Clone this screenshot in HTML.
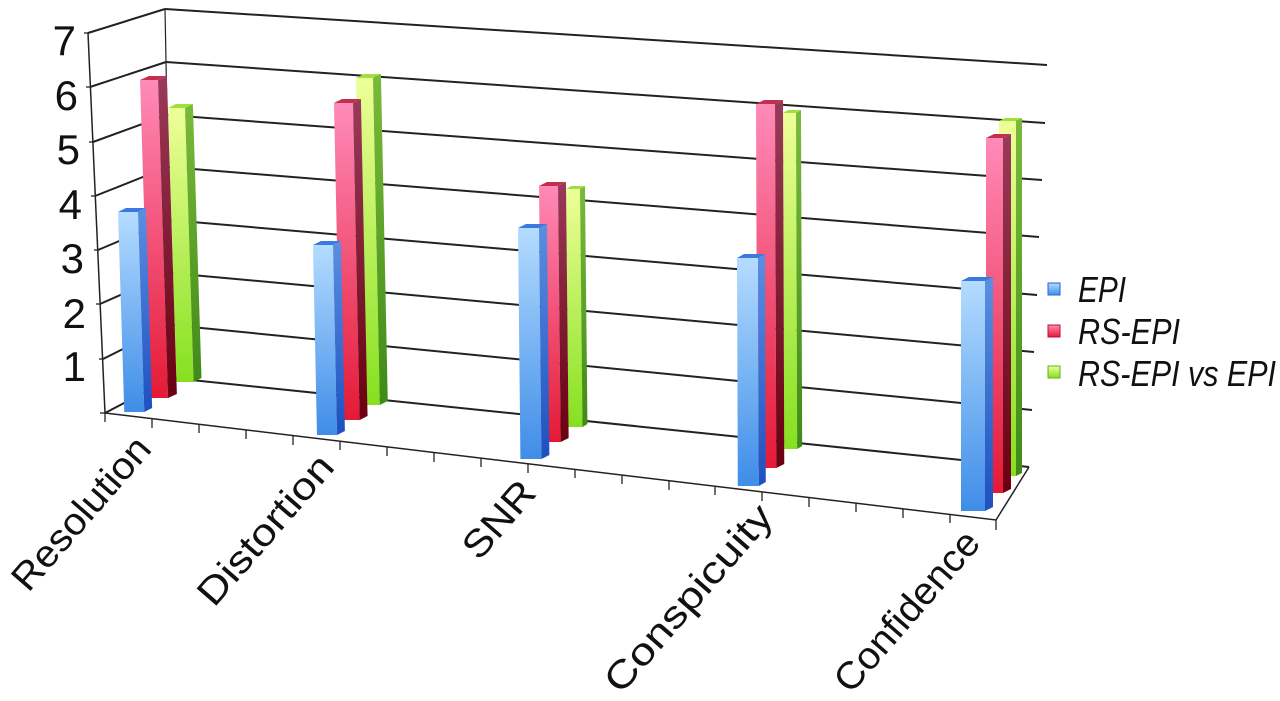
<!DOCTYPE html>
<html><head><meta charset="utf-8"><style>
html,body{margin:0;padding:0;background:#fff;}
svg{display:block;font-family:"Liberation Sans",sans-serif;}
</style></head><body>
<svg width="1280" height="701" viewBox="0 0 1280 701" xmlns="http://www.w3.org/2000/svg">
<defs>
<linearGradient id="bf" x1="0" y1="0" x2="0" y2="1"><stop offset="0" stop-color="#b4dcff"/><stop offset="1" stop-color="#3f8de8"/></linearGradient>
<linearGradient id="bs" x1="0" y1="0" x2="0" y2="1"><stop offset="0" stop-color="#5a8fe0"/><stop offset="1" stop-color="#1e50c0"/></linearGradient>
<linearGradient id="rf" x1="0" y1="0" x2="0" y2="1"><stop offset="0" stop-color="#ff8ab8"/><stop offset="1" stop-color="#e41a36"/></linearGradient>
<linearGradient id="rs" x1="0" y1="0" x2="0" y2="1"><stop offset="0" stop-color="#9a3a5a"/><stop offset="1" stop-color="#6a0010"/></linearGradient>
<linearGradient id="gf" x1="0" y1="0" x2="0" y2="1"><stop offset="0" stop-color="#eeff98"/><stop offset="1" stop-color="#86e020"/></linearGradient>
<linearGradient id="gs" x1="0" y1="0" x2="0" y2="1"><stop offset="0" stop-color="#7aba3a"/><stop offset="1" stop-color="#3f8a18"/></linearGradient>
</defs>
<g stroke="#222" stroke-width="2" fill="none">
<line x1="172" y1="378" x2="1029" y2="467"/><line x1="105" y1="413" x2="172" y2="378"/>
<line x1="171" y1="325" x2="1032" y2="410"/><line x1="103" y1="359" x2="171" y2="325"/>
<line x1="170" y1="273" x2="1034" y2="352"/><line x1="100" y1="304" x2="170" y2="273"/>
<line x1="169" y1="220" x2="1037" y2="295"/><line x1="98" y1="250" x2="169" y2="220"/>
<line x1="168" y1="167" x2="1039" y2="237"/><line x1="95" y1="196" x2="168" y2="167"/>
<line x1="167" y1="115" x2="1042" y2="180"/><line x1="93" y1="142" x2="167" y2="115"/>
<line x1="166" y1="62" x2="1045" y2="123"/><line x1="90" y1="87" x2="166" y2="62"/>
<line x1="165" y1="9" x2="1047" y2="65"/><line x1="88" y1="33" x2="165" y2="9"/>
<line x1="165" y1="9" x2="172" y2="378" stroke-width="1.2"/>
<line x1="88" y1="33" x2="105" y2="413" stroke-width="1.5"/>
<polyline points="105,413 996,520 1029,467" stroke-width="1.5"/>
<g stroke-width="1.3">
<line x1="84" y1="33" x2="88" y2="33"/><line x1="86" y1="87" x2="90" y2="87"/><line x1="89" y1="142" x2="93" y2="142"/><line x1="91" y1="196" x2="95" y2="196"/><line x1="94" y1="250" x2="98" y2="250"/><line x1="96" y1="304" x2="100" y2="304"/><line x1="99" y1="359" x2="103" y2="359"/><line x1="100" y1="413" x2="105" y2="413"/>
<line x1="105" y1="413" x2="105" y2="422"/><line x1="152" y1="419" x2="152" y2="428"/><line x1="199" y1="424" x2="199" y2="433"/><line x1="246" y1="430" x2="246" y2="439"/><line x1="293" y1="436" x2="293" y2="445"/><line x1="340" y1="441" x2="340" y2="450"/><line x1="387" y1="447" x2="387" y2="456"/><line x1="434" y1="453" x2="434" y2="462"/><line x1="481" y1="458" x2="481" y2="467"/><line x1="528" y1="464" x2="528" y2="473"/><line x1="575" y1="469" x2="575" y2="478"/><line x1="622" y1="475" x2="622" y2="484"/><line x1="669" y1="481" x2="669" y2="490"/><line x1="715" y1="486" x2="715" y2="495"/><line x1="762" y1="492" x2="762" y2="501"/><line x1="809" y1="498" x2="809" y2="507"/><line x1="856" y1="503" x2="856" y2="512"/><line x1="903" y1="509" x2="903" y2="518"/><line x1="950" y1="514" x2="950" y2="523"/><line x1="996" y1="520" x2="996" y2="530"/>
</g>
</g>

<g transform="translate(168,108) skewX(1.8)"><rect width="17" height="274" fill="url(#gf)"/><polygon points="17,0 25,-4 25,270 17,274" fill="url(#gs)"/><polygon points="0,0 8,-4 25,-4 17,0" fill="#9fe040"/></g>
<g transform="translate(140,80) skewX(1.8)"><rect width="18" height="318" fill="url(#rf)"/><polygon points="18,0 27,-4 27,314 18,318" fill="url(#rs)"/><polygon points="0,0 9,-4 27,-4 18,0" fill="#c23050"/></g>
<g transform="translate(118,212) skewX(1.8)"><rect width="20" height="200" fill="url(#bf)"/><polygon points="20,0 28,-4 28,196 20,200" fill="url(#bs)"/><polygon points="0,0 8,-4 28,-4 20,0" fill="#3a7ae0"/></g>

<g transform="translate(356,78) skewX(1.2)"><rect width="17" height="327" fill="url(#gf)"/><polygon points="17,0 25,-4 25,323 17,327" fill="url(#gs)"/><polygon points="0,0 8,-4 25,-4 17,0" fill="#9fe040"/></g>
<g transform="translate(334,103) skewX(1.2)"><rect width="19" height="317" fill="url(#rf)"/><polygon points="19,0 27,-4 27,313 19,317" fill="url(#rs)"/><polygon points="0,0 8,-4 27,-4 19,0" fill="#c23050"/></g>
<g transform="translate(313,245) skewX(1.2)"><rect width="20" height="190" fill="url(#bf)"/><polygon points="20,0 28,-4 28,186 20,190" fill="url(#bs)"/><polygon points="0,0 8,-4 28,-4 20,0" fill="#3a7ae0"/></g>

<g transform="translate(566,189) skewX(0.6)"><rect width="14" height="238" fill="url(#gf)"/><polygon points="14,0 19,-3 19,235 14,238" fill="url(#gs)"/><polygon points="0,0 5,-3 19,-3 14,0" fill="#9fe040"/></g>
<g transform="translate(539,186) skewX(0.6)"><rect width="19" height="256" fill="url(#rf)"/><polygon points="19,0 27,-4 27,252 19,256" fill="url(#rs)"/><polygon points="0,0 8,-4 27,-4 19,0" fill="#c23050"/></g>
<g transform="translate(518,228) skewX(0.6)"><rect width="21" height="231" fill="url(#bf)"/><polygon points="21,0 29,-4 29,227 21,231" fill="url(#bs)"/><polygon points="0,0 8,-4 29,-4 21,0" fill="#3a7ae0"/></g>

<g transform="translate(783,113) skewX(0.2)"><rect width="13" height="336" fill="url(#gf)"/><polygon points="13,0 18,-3 18,333 13,336" fill="url(#gs)"/><polygon points="0,0 5,-3 18,-3 13,0" fill="#9fe040"/></g>
<g transform="translate(756,104) skewX(0.2)"><rect width="19" height="364" fill="url(#rf)"/><polygon points="19,0 27,-4 27,360 19,364" fill="url(#rs)"/><polygon points="0,0 8,-4 27,-4 19,0" fill="#c23050"/></g>
<g transform="translate(737,258) skewX(0.2)"><rect width="21" height="228" fill="url(#bf)"/><polygon points="21,0 28,-4 28,224 21,228" fill="url(#bs)"/><polygon points="0,0 7,-4 28,-4 21,0" fill="#3a7ae0"/></g>

<g transform="translate(999,121)"><rect width="17" height="355" fill="url(#gf)"/><polygon points="17,0 23,-3 23,352 17,355" fill="url(#gs)"/><polygon points="0,0 6,-3 23,-3 17,0" fill="#9fe040"/></g>
<g transform="translate(986,138)"><rect width="17" height="355" fill="url(#rf)"/><polygon points="17,0 25,-4 25,351 17,355" fill="url(#rs)"/><polygon points="0,0 8,-4 25,-4 17,0" fill="#c23050"/></g>
<g transform="translate(961,281)"><rect width="24" height="230" fill="url(#bf)"/><polygon points="24,0 32,-4 32,226 24,230" fill="url(#bs)"/><polygon points="0,0 8,-4 32,-4 24,0" fill="#3a7ae0"/></g>

<g font-size="42" fill="#111" text-anchor="end">
<text x="76" y="55">7</text><text x="78" y="110">6</text><text x="80" y="164">5</text><text x="82" y="219">4</text><text x="84" y="273">3</text><text x="86" y="328">2</text><text x="86" y="381">1</text>
</g>
<g font-size="38" fill="#111" text-anchor="end">
<text transform="translate(153,450) rotate(-49)" textLength="190" lengthAdjust="spacingAndGlyphs">Resolution</text>
<text transform="translate(336,468) rotate(-49)" textLength="186" lengthAdjust="spacingAndGlyphs">Distortion</text>
<text transform="translate(538,494) rotate(-49)" textLength="90" lengthAdjust="spacingAndGlyphs">SNR</text>
<text transform="translate(775,518) rotate(-49)" textLength="235" lengthAdjust="spacingAndGlyphs">Conspicuity</text>
<text transform="translate(982,544) rotate(-49)" textLength="200" lengthAdjust="spacingAndGlyphs">Confidence</text>
</g>
<rect x="1048" y="283" width="12" height="12" fill="url(#bf)" stroke="#2a60d0" stroke-width="1"/>
<rect x="1048" y="325" width="12" height="12" fill="url(#rf)" stroke="#c01030" stroke-width="1"/>
<rect x="1048" y="366" width="12" height="12" fill="url(#gf)" stroke="#60b020" stroke-width="1"/>
<g font-size="36" font-style="italic" fill="#111">
<text x="1078" y="302" textLength="48" lengthAdjust="spacingAndGlyphs">EPI</text>
<text x="1078" y="344" textLength="102" lengthAdjust="spacingAndGlyphs">RS-EPI</text>
<text x="1078" y="386" textLength="198" lengthAdjust="spacingAndGlyphs">RS-EPI vs EPI</text>
</g>
</svg>
</body></html>
